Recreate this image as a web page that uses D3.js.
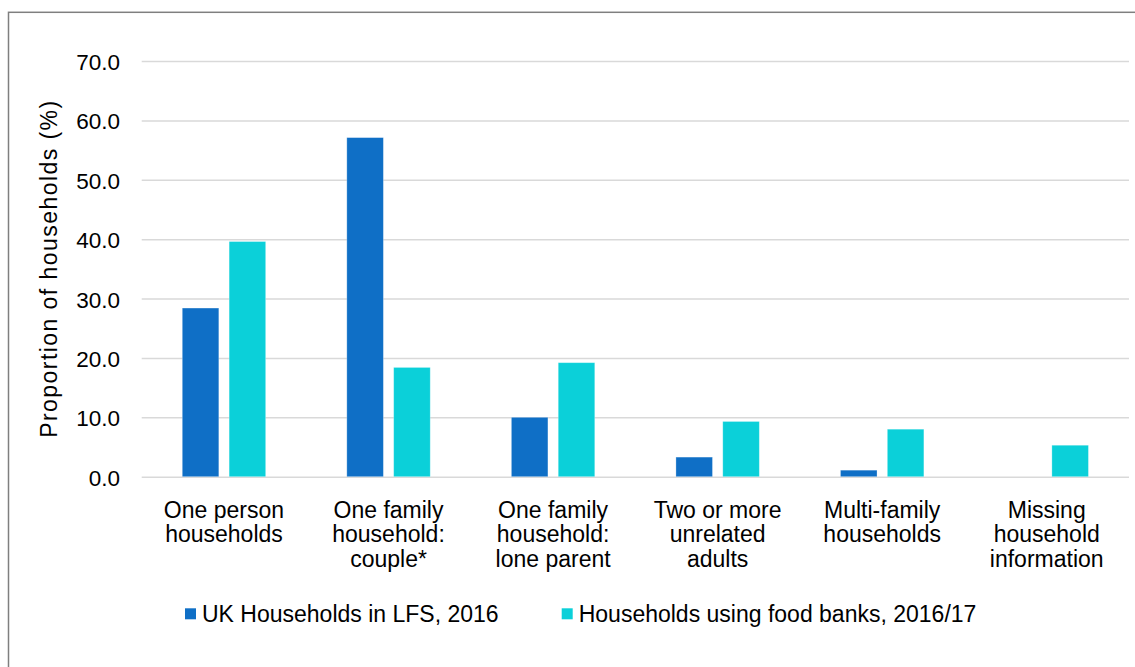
<!DOCTYPE html>
<html>
<head>
<meta charset="utf-8">
<script src="https://cdn.jsdelivr.net/npm/d3@7"></script>
<style>
  html, body { margin: 0; padding: 0; background: #fff; }
  svg { display: block; font-family: "Liberation Sans", Arial, sans-serif; }
</style>
</head>
<body>
<svg id="chart" width="1135" height="667"></svg>
<script>
const categories = [
  ["One person", "households"],
  ["One family", "household:", "couple*"],
  ["One family", "household:", "lone parent"],
  ["Two or more", "unrelated", "adults"],
  ["Multi-family", "households"],
  ["Missing", "household", "information"]
];
const seriesNames = ["UK Households in LFS, 2016", "Households using food banks, 2016/17"];
const lfsValues = [28.4, 57.1, 10.0, 3.3, 1.1, 0];
const foodBankValues = [39.6, 18.4, 19.2, 9.3, 8.0, 5.3];
const yTicks = [0, 10, 20, 30, 40, 50, 60, 70];
const colors = ["#0F6FC6", "#0BD0D9"];

const svg = d3.select("#chart");
const W = 1135, H = 667;
const plot = { left: 141.7, right: 1129, top: 61, bottom: 476.7 };
const FS = "23px";

// outer border
svg.append("rect")
  .attr("x", 8.5).attr("y", 12.3)
  .attr("width", W + 20).attr("height", H + 20)
  .attr("fill", "#fff").attr("stroke", "#7f7f7f").attr("stroke-width", 1.5);

const catKeys = categories.map((c, i) => i);
const x0 = d3.scaleBand().domain(catKeys).range([plot.left, plot.right]).padding(0);
const x1 = d3.scaleBand().domain([0, 1]).range([0, x0.bandwidth()])
  .paddingInner(0.22).paddingOuter(0.866);
const y = d3.scaleLinear().domain([0, 70]).range([plot.bottom, plot.top]);

// gridlines + tick labels
const yAxis = d3.axisLeft(y).tickValues(yTicks).tickSize(0).tickFormat(d3.format(".1f"));
const gy = svg.append("g").attr("transform", `translate(${plot.left},0)`).call(yAxis);
gy.select(".domain").remove();
gy.selectAll(".tick line").remove();
gy.selectAll(".tick").append("line")
  .attr("x1", 0).attr("x2", plot.right - plot.left)
  .attr("stroke", "#d9d9d9").attr("stroke-width", 1.5);
gy.selectAll(".tick text")
  .attr("x", 120 - plot.left).attr("dy", "0.38em")
  .attr("text-anchor", "end")
  .style("font-size", "22.5px").style("font-family", "'Liberation Sans', Arial, sans-serif")
  .attr("fill", "#000");

// bars
const data = catKeys.map(i => [lfsValues[i], foodBankValues[i]]);
const groups = svg.append("g").selectAll("g").data(data).join("g")
  .attr("transform", (d, i) => `translate(${x0(i)},0)`);
groups.selectAll("rect").data(d => d.map((v, s) => ({ v, s })))
  .join("rect")
  .filter(d => d.v > 0)
  .attr("x", d => x1(d.s))
  .attr("width", x1.bandwidth())
  .attr("y", d => y(d.v))
  .attr("height", d => y(0) - y(d.v))
  .attr("fill", d => colors[d.s])
  .attr("stroke", "#ffffff").attr("stroke-opacity", 0.35).attr("stroke-width", 0.8);

// x labels
const xl = svg.append("g");
categories.forEach((lines, i) => {
  const cx = x0(i) + x0.bandwidth() / 2;
  const t = xl.append("text").attr("text-anchor", "middle")
    .attr("x", cx).attr("y", 518)
    .style("font-size", FS).attr("fill", "#000");
  lines.forEach((ln, j) => {
    t.append("tspan").attr("x", cx).attr("y", 518 + j * 24.3).text(ln);
  });
});

// y label
svg.append("text")
  .attr("transform", `translate(57,${(plot.top + plot.bottom) / 2 + 0.5}) rotate(-90)`)
  .attr("text-anchor", "middle")
  .attr("textLength", 337).attr("lengthAdjust", "spacing")
  .style("font-size", FS).attr("fill", "#000")
  .text("Proportion of households (%)");

// legend
const legendX = [185, 561.7];
const lg = svg.append("g");
seriesNames.forEach((name, i) => {
  lg.append("rect").attr("x", legendX[i]).attr("y", 608.3)
    .attr("width", 11).attr("height", 11).attr("fill", colors[i]);
  lg.append("text").attr("x", legendX[i] + 17).attr("y", 622)
    .style("font-size", FS).attr("fill", "#000").text(name);
});
</script>
</body>
</html>
